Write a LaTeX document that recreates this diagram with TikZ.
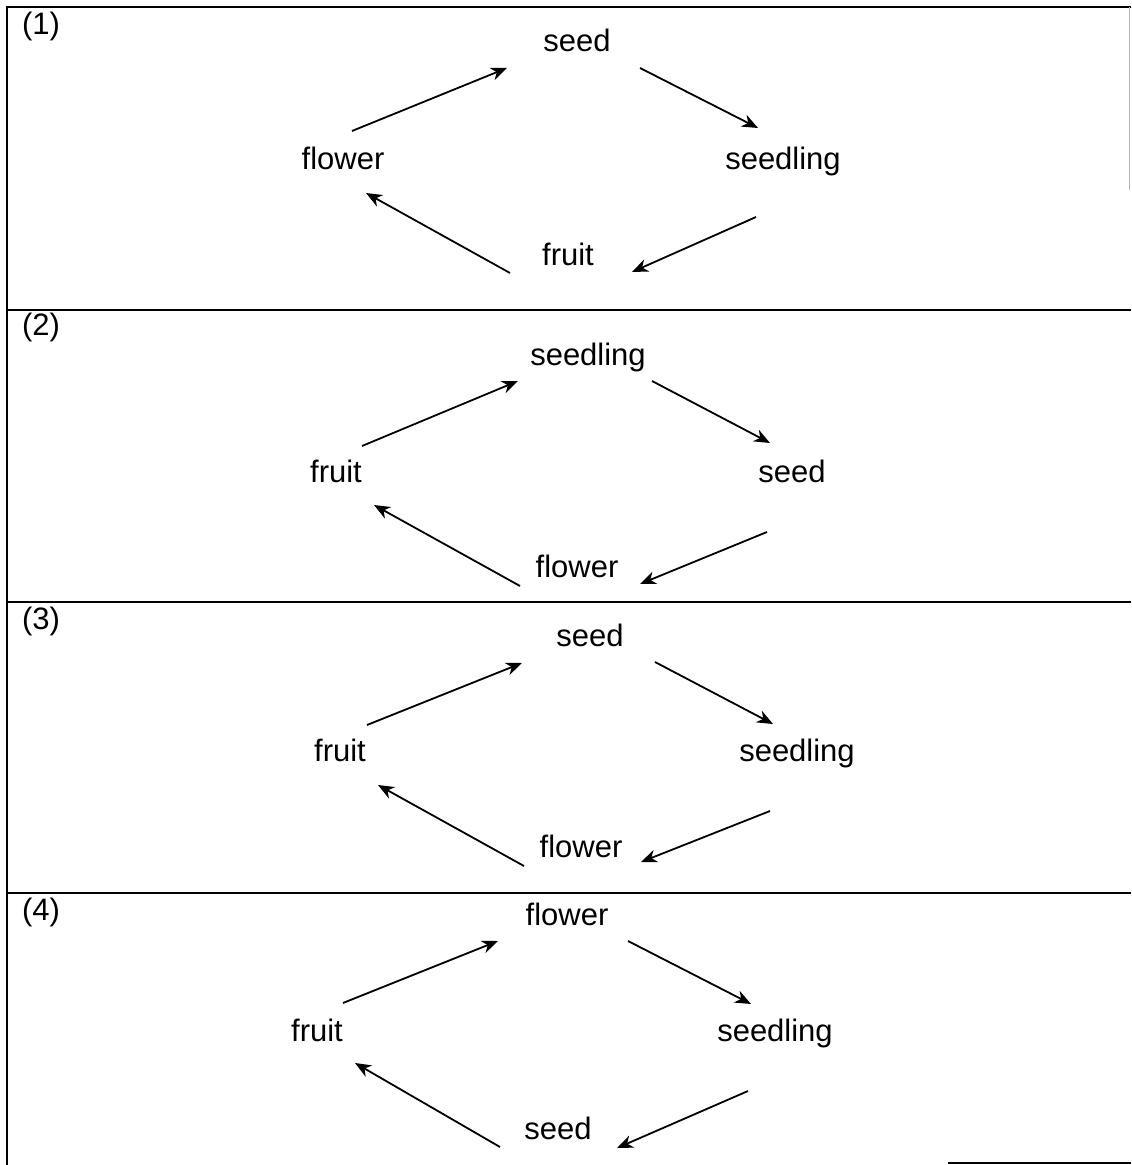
\documentclass[tikz,border=0pt]{standalone}
\usepackage{fontspec}
\setmainfont{Liberation Sans}
\usetikzlibrary{arrows.meta,positioning}
\tikzset{
  stage/.style={inner sep=0pt,text height=0.95em,text depth=0pt,font=\fontsize{15.5pt}{18pt}\selectfont},
  tag/.style={inner sep=0pt,text height=0.73em,text depth=0.21em,font=\fontsize{15.5pt}{18pt}\selectfont},
  cyc/.style={-{Stealth[length=8pt,width=6.5pt,inset=2.5pt]},line width=0.9pt},
  frame/.style={line width=1pt}
}

\begin{document}
\begin{tikzpicture}[x=0.5pt,y=-0.5pt]
\useasboundingbox (0,0) rectangle (1131,1165);

% frame
\draw[frame] (7,1165) -- (7,7) -- (1131,7);
\draw[frame] (7,310) -- (1131,310);
\draw[frame] (7,602) -- (1131,602);
\draw[frame] (7,893) -- (1131,893);
\draw[frame] (948,1163) -- (1131,1163);
\draw[gray!60,line width=0.5pt] (1129,7) -- (1129,190);

% (1)
\node[tag] (n1) at (41,29) {(1)};
\node[stage] (seedA) at (577,42) {seed};
\node[stage] (flowerA) at (343,160) {flower};
\node[stage] (seedlingA) at (783,160) {seedling};
\node[stage] (fruitA) at (568,256) {fruit};
\draw[cyc] ([shift={(9,-29)}]flowerA.center) -- ([shift={(-70,26)}]seedA.center);
\draw[cyc] ([shift={(63,26)}]seedA.center) -- ([shift={(-25,-32)}]seedlingA.center);
\draw[cyc] ([shift={(-27,57)}]seedlingA.center) -- ([shift={(64,16)}]fruitA.center);
\draw[cyc] ([shift={(-58,17)}]fruitA.center) -- ([shift={(23,33)}]flowerA.center);

% (2)
\node[tag] (n2) at (41,330) {(2)};
\node[stage] (seedlingB) at (588,356) {seedling};
\node[stage] (fruitB) at (336,473) {fruit};
\node[stage] (seedB) at (792,473) {seed};
\node[stage] (flowerB) at (577,568) {flower};
\draw[cyc] ([shift={(26,-27)}]fruitB.center) -- ([shift={(-70,25)}]seedlingB.center);
\draw[cyc] ([shift={(64,25)}]seedlingB.center) -- ([shift={(-22,-30)}]seedB.center);
\draw[cyc] ([shift={(-25,59)}]seedB.center) -- ([shift={(63,16)}]flowerB.center);
\draw[cyc] ([shift={(-57,18)}]flowerB.center) -- ([shift={(38,32)}]fruitB.center);

% (3)
\node[tag] (n3) at (41,624) {(3)};
\node[stage] (seedC) at (590,637) {seed};
\node[stage] (fruitC) at (340,752) {fruit};
\node[stage] (seedlingC) at (797,752) {seedling};
\node[stage] (flowerC) at (581,848) {flower};
\draw[cyc] ([shift={(27,-27)}]fruitC.center) -- ([shift={(-68,26)}]seedC.center);
\draw[cyc] ([shift={(65,25)}]seedC.center) -- ([shift={(-24,-28)}]seedlingC.center);
\draw[cyc] ([shift={(-27,59)}]seedlingC.center) -- ([shift={(60,14)}]flowerC.center);
\draw[cyc] ([shift={(-57,18)}]flowerC.center) -- ([shift={(38,33)}]fruitC.center);

% (4)
\node[tag] (n4) at (41,915) {(4)};
\node[stage] (flowerD) at (567,916) {flower};
\node[stage] (fruitD) at (317,1032) {fruit};
\node[stage] (seedlingD) at (775,1032) {seedling};
\node[stage] (seedD) at (558,1130) {seed};
\draw[cyc] ([shift={(26,-29)}]fruitD.center) -- ([shift={(-69,25)}]flowerD.center);
\draw[cyc] ([shift={(61,25)}]flowerD.center) -- ([shift={(-24,-28)}]seedlingD.center);
\draw[cyc] ([shift={(-27,59)}]seedlingD.center) -- ([shift={(59,18)}]seedD.center);
\draw[cyc] ([shift={(-58,17)}]seedD.center) -- ([shift={(38,31)}]fruitD.center);

\end{tikzpicture}
\end{document}
